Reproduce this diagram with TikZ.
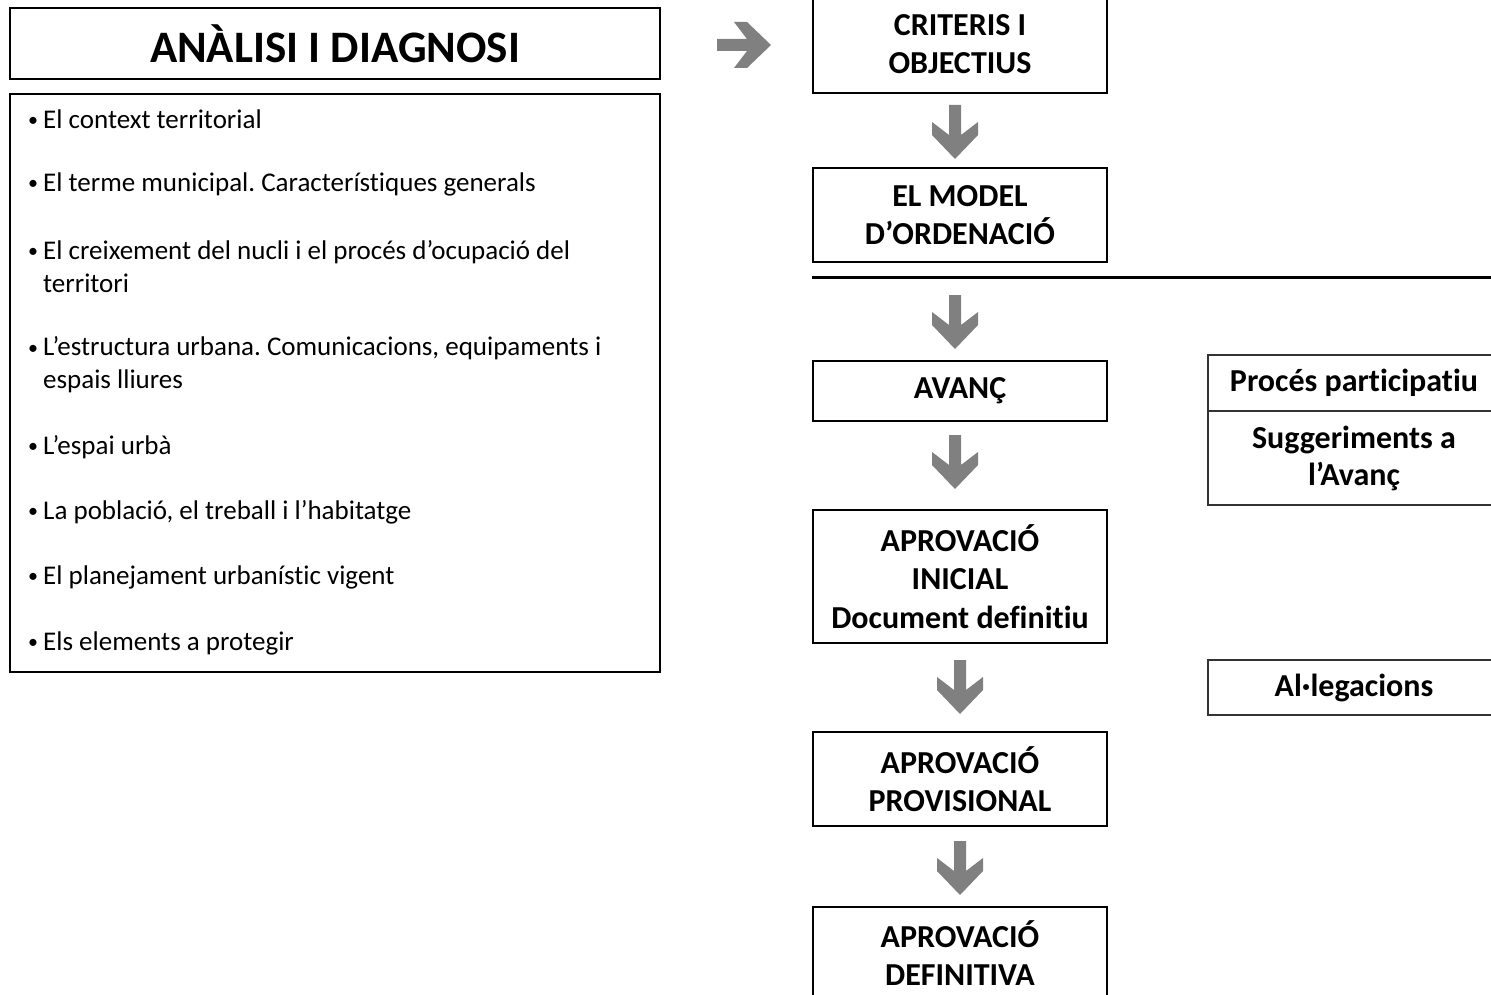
\documentclass[tikz,border=0pt]{standalone}
\usepackage{fontspec}
\setmainfont{Carlito}[Ligatures={NoCommon,TeX}]
\frenchspacing
\usetikzlibrary{calc}
\definecolor{arrowgray}{RGB}{128,128,128}
\newcommand\bt{\makebox[15pt][l]{\raisebox{1.5pt}{\fontsize{20}{20}\selectfont •}}}
\newcommand\ind{\hspace*{15pt}}
\tikzset{
  x=1pt,y=-1pt,
  mainbox/.style={draw=black,line width=2.5pt,fill=white,align=center,inner sep=0pt,
    font=\fontsize{32}{38.5}\selectfont\bfseries},
  sidebox/.style={draw=black!80,line width=1.5pt,align=center,inner sep=0pt,
    font=\fontsize{32}{37}\selectfont\bfseries},
  item/.style={anchor=west,align=left,inner sep=0pt,font=\fontsize{27}{33}\selectfont},
  downarrow/.pic={\fill[arrowgray] (-6,-27)--(6,-27)--(6,3)--(23,-10)--(23,3)--(0,27)--(-23,3)--(-23,-10)--(-6,3)--cycle;},
  rightarrow/.pic={\fill[arrowgray] (-27,-6)--(-27,6)--(3,6)--(-10,23)--(3,23)--(27,0)--(3,-23)--(-10,-23)--(3,-6)--cycle;}
}
\begin{document}
\begin{tikzpicture}
\useasboundingbox (0,0) rectangle (1491,995);
% left column
\node[mainbox,minimum width=650,minimum height=71,font=\fontsize{45}{50}\selectfont\bfseries] (analisi) at (335,43.5) {ANÀLISI I DIAGNOSI};
\node[draw=black,line width=1.5pt,minimum width=650,minimum height=578,inner sep=0pt] (list) at (335,383) {};
\foreach \yy/\txt [count=\i] in {119/{\bt El context territorial},
  184/{\bt El terme municipal. Característiques generals},
  266.5/{\bt El creixement del nucli i el procés d’ocupació del\\\ind territori},
  365/{\bt L’estructura urbana. Comunicacions, equipaments i\\\ind espais lliures},
  447/{\bt L’espai urbà},
  512/{\bt La població, el treball i l’habitatge},
  577/{\bt El planejament urbanístic vigent},
  643/{\bt Els elements a protegir}}{
  \node[item] (it\i) at (28,\yy) {\txt};
}
% right column
\node[mainbox,minimum width=294,minimum height=98] (crit) at (960,44) {CRITERIS I\\OBJECTIUS};
\node[mainbox,minimum width=294,minimum height=94] (model) at (960,215) {EL MODEL\\D’ORDENACIÓ};
\node[mainbox,minimum width=294,minimum height=60] (avanc) at (960,391) {AVANÇ};
\node[mainbox,minimum width=294,minimum height=133] (inicial) at (960,576.5) {APROVACIÓ\\INICIAL\\Document definitiu};
\node[mainbox,minimum width=294,minimum height=92] (def) at (960,953) {APROVACIÓ\\DEFINITIVA};
\node[mainbox,minimum width=294,minimum height=94] (prov) at (960,779) {APROVACIÓ\\PROVISIONAL};
% side boxes
\node[sidebox,minimum width=292,minimum height=56] (proces) at (1354,383) {Procés participatiu};
\node[sidebox,minimum width=292,minimum height=94] (sugg) at (1354,458) {Suggeriments a\\l’Avanç};
\node[sidebox,minimum width=292,minimum height=55] (alleg) at (1354,687.5) {Al·legacions};
% separator line
\coordinate (lineend) at (1491,277);
\draw[line width=3pt] (model.south west |- lineend) -- (lineend);
% arrows
\pic at (744,45) {rightarrow};
\pic at (955,132) {downarrow};
\pic at (955,322) {downarrow};
\pic at (955,462) {downarrow};
\pic at (960,687) {downarrow};
\pic at (960,868) {downarrow};
\end{tikzpicture}
\end{document}
